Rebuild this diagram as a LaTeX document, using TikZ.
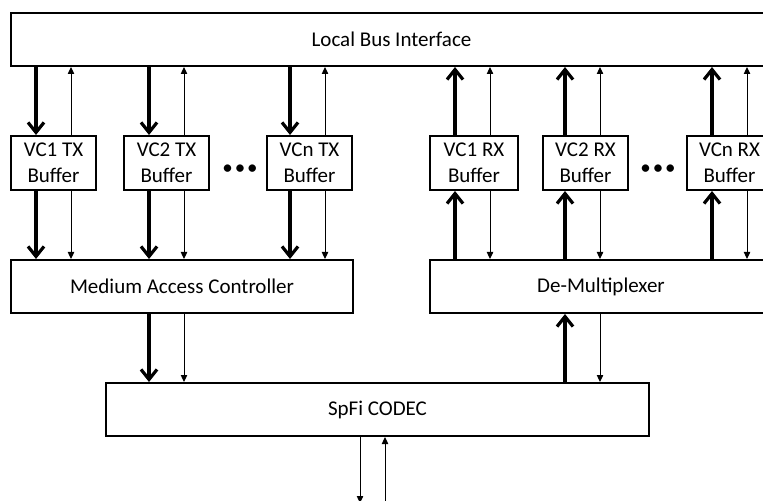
\documentclass[tikz,border=0pt]{standalone}
\usepackage{fontspec}
\setmainfont{Carlito}
\usetikzlibrary{arrows.meta, positioning}
\tikzset{
  blk/.style={rectangle, draw=black, line width=1pt, fill=white,
              align=center, inner sep=0pt, font=\fontsize{10.5}{13}\selectfont},
  bufblk/.style={blk, minimum width=42.5pt, minimum height=27pt},
  wideblk/.style={blk, minimum height=26.5pt},
  dataarr/.style={line width=1.6pt, -{Straight Barb[length=5pt, width=8pt]}},
  ctrlarr/.style={line width=0.5pt, -{Triangle[length=3.5pt, width=3.2pt]}},
  dotsnode/.style={inner sep=0pt, font=\fontsize{10.5}{13}\selectfont},
}
\begin{document}
\begin{tikzpicture}[x=0.5pt, y=-0.5pt]
    \useasboundingbox (0,0) rectangle (763,501);
    \clip (0,0) rectangle (763,501);
    % Bus interface
    \node[wideblk, minimum width=380.5pt] (bus) at (391.5,39.5) {Local Bus Interface};
    % TX buffers
    \node[bufblk] (tx1) at (53.5,163) {VC1 TX\\Buffer};
    \node[bufblk] (tx2) at (166.5,163) {VC2 TX\\Buffer};
    \node[bufblk] (txn) at (309.5,163) {VCn TX\\Buffer};
    \node[dotsnode] (txdots) at (240,170) {\textbullet\hspace{1pt}\textbullet\hspace{1pt}\textbullet};
    % RX buffers
    \node[bufblk, minimum width=44pt] (rx1) at (474,163) {VC1 RX\\Buffer};
    \node[bufblk] (rx2) at (585.5,163) {VC2 RX\\Buffer};
    \node[bufblk] (rxn) at (729.5,163) {VCn RX\\Buffer};
    \node[dotsnode] (rxdots) at (658,170) {\textbullet\hspace{1pt}\textbullet\hspace{1pt}\textbullet};
    % MAC and de-multiplexer
    \node[wideblk, minimum width=171pt] (mac) at (182,286.5) {Medium Access Controller};
    \node[wideblk, minimum width=171pt] (demux) at (601,286.5) {De-Multiplexer};
    % Codec and line side
    \node[wideblk, minimum width=271.5pt] (codec) at (377.5,409.5) {SpFi CODEC};
    \coordinate (lineout) at (360,503);
    \coordinate (linein) at (385,503);
    % Bus <-> TX buffers
    \draw[dataarr] ([xshift=-8.75pt]tx1.north |- bus.south) -- ([xshift=-8.75pt]tx1.north);
    \draw[ctrlarr] ([xshift=8.75pt]tx1.north) -- ([xshift=8.75pt]tx1.north |- bus.south);
    \draw[dataarr] ([xshift=-8.75pt]tx2.north |- bus.south) -- ([xshift=-8.75pt]tx2.north);
    \draw[ctrlarr] ([xshift=8.75pt]tx2.north) -- ([xshift=8.75pt]tx2.north |- bus.south);
    \draw[dataarr] ([xshift=-9.75pt]txn.north |- bus.south) -- ([xshift=-9.75pt]txn.north);
    \draw[ctrlarr] ([xshift=7.75pt]txn.north) -- ([xshift=7.75pt]txn.north |- bus.south);
    % TX buffers -> MAC
    \draw[dataarr] ([xshift=-8.75pt]tx1.south) -- ([xshift=-8.75pt]tx1.south |- mac.north);
    \draw[ctrlarr] ([xshift=8.75pt]tx1.south) -- ([xshift=8.75pt]tx1.south |- mac.north);
    \draw[dataarr] ([xshift=-8.75pt]tx2.south) -- ([xshift=-8.75pt]tx2.south |- mac.north);
    \draw[ctrlarr] ([xshift=8.75pt]tx2.south) -- ([xshift=8.75pt]tx2.south |- mac.north);
    \draw[dataarr] ([xshift=-9.75pt]txn.south) -- ([xshift=-9.75pt]txn.south |- mac.north);
    \draw[ctrlarr] ([xshift=7.75pt]txn.south) -- ([xshift=7.75pt]txn.south |- mac.north);
    % RX buffers -> bus
    \draw[dataarr] ([xshift=-9.5pt]rx1.north) -- ([xshift=-9.5pt]rx1.north |- bus.south);
    \draw[ctrlarr] ([xshift=8pt]rx1.north) -- ([xshift=8pt]rx1.north |- bus.south);
    \draw[dataarr] ([xshift=-10.25pt]rx2.north) -- ([xshift=-10.25pt]rx2.north |- bus.south);
    \draw[ctrlarr] ([xshift=7.25pt]rx2.north) -- ([xshift=7.25pt]rx2.north |- bus.south);
    \draw[dataarr] ([xshift=-8.75pt]rxn.north) -- ([xshift=-8.75pt]rxn.north |- bus.south);
    \draw[ctrlarr] ([xshift=8.75pt]rxn.north) -- ([xshift=8.75pt]rxn.north |- bus.south);
    % De-multiplexer <-> RX buffers
    \draw[dataarr] ([xshift=-9.5pt]rx1.south |- demux.north) -- ([xshift=-9.5pt]rx1.south);
    \draw[ctrlarr] ([xshift=8pt]rx1.south) -- ([xshift=8pt]rx1.south |- demux.north);
    \draw[dataarr] ([xshift=-10.25pt]rx2.south |- demux.north) -- ([xshift=-10.25pt]rx2.south);
    \draw[ctrlarr] ([xshift=7.25pt]rx2.south) -- ([xshift=7.25pt]rx2.south |- demux.north);
    \draw[dataarr] ([xshift=-8.75pt]rxn.south |- demux.north) -- ([xshift=-8.75pt]rxn.south);
    \draw[ctrlarr] ([xshift=8.75pt]rxn.south) -- ([xshift=8.75pt]rxn.south |- demux.north);
    % MAC / de-multiplexer <-> codec
    \draw[dataarr] ([xshift=-16.5pt]mac.south) -- ([xshift=-16.5pt]mac.south |- codec.north);
    \draw[ctrlarr] ([xshift=1pt]mac.south) -- ([xshift=1pt]mac.south |- codec.north);
    \draw[dataarr] ([xshift=-18pt]demux.south |- codec.north) -- ([xshift=-18pt]demux.south);
    \draw[ctrlarr] ([xshift=-0.5pt]demux.south) -- ([xshift=-0.5pt]demux.south |- codec.north);
    % Codec <-> line
    \draw[ctrlarr] (codec.south -| lineout) -- (lineout);
    \draw[ctrlarr] (linein) -- (codec.south -| linein);
\end{tikzpicture}
\end{document}
